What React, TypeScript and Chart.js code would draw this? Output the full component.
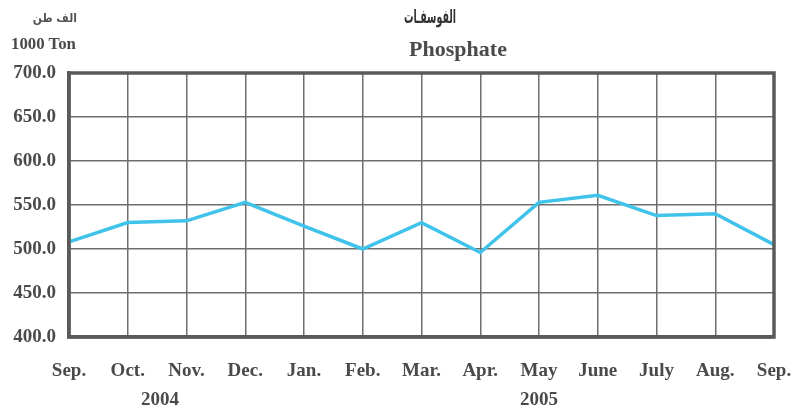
import React, { useEffect, useRef } from "react";
import { Chart, registerables } from "chart.js";
Chart.register(...registerables);

const months = ["Sep.", "Oct.", "Nov.", "Dec.", "Jan.", "Feb.", "Mar.", "Apr.", "May", "June", "July", "Aug.", "Sep."];
const phosphate = [508, 530, 532, 553, 526, 500, 530, 496, 553, 561, 538, 540, 505];
const yearLabels = ["2004", "2005"];
const yearAt = [1.55, 8];
const yMin = 400;
const yMax = 700;
const yStep = 50;

const serif = "'Liberation Serif', 'Times New Roman', serif";
const textGray = "#4a4a4a";

const yearPlugin = {
  id: "years",
  afterDraw(chart: any) {
    const x = chart.scales.x;
    const ctx = chart.ctx;
    ctx.save();
    ctx.font = `bold 19px ${serif}`;
    ctx.fillStyle = textGray;
    ctx.textAlign = "center";
    ctx.textBaseline = "middle";
    yearLabels.forEach((t, i) => {
      ctx.fillText(t, x.getPixelForValue(yearAt[i]), 400);
    });
    ctx.restore();
  },
};

export default function App() {
  const ref = useRef<HTMLCanvasElement>(null);
  useEffect(() => {
    const chart = new Chart(ref.current!, {
      type: "line",
      data: {
        labels: months,
        datasets: [
          {
            data: phosphate,
            borderColor: "#3fc3ea",
            borderWidth: 3.5,
            pointRadius: 0,
            tension: 0,
            fill: false,
          },
        ],
      },
      options: {
        animation: false,
        responsive: false,
        devicePixelRatio: 1,
        layout: { padding: { left: 0, top: 73, right: 25, bottom: 0 } },
        plugins: { legend: { display: false }, tooltip: { enabled: false }, title: { display: false } },
        scales: {
          x: {
            offset: false,
            grid: { color: "#6e6e6e", lineWidth: 1.5, drawTicks: false },
            border: { color: "#5a5a5a", width: 3.5 },
            ticks: {
              font: { family: serif, size: 19, weight: "bold" },
              color: textGray,
              padding: 23,
              maxRotation: 0,
              autoSkip: false,
            },
            afterFit: (s: any) => {
              s.height = 77;
              s.paddingLeft = 0;
              s.paddingRight = 0;
            },
          },
          y: {
            min: yMin,
            max: yMax,
            grid: { color: "#6e6e6e", lineWidth: 1.5, drawTicks: false },
            border: { color: "#5a5a5a", width: 3.5 },
            ticks: {
              stepSize: yStep,
              font: { family: serif, size: 19, weight: "bold" },
              color: textGray,
              padding: 13,
              callback: (v: any) => Number(v).toFixed(1),
            },
            afterFit: (s: any) => {
              s.width = 69;
              s.paddingTop = 0;
              s.paddingBottom = 0;
            },
          },
        },
      },
      plugins: [
        yearPlugin,
        {
          id: "frame",
          afterDatasetsDraw(chart: any) {
            const a = chart.chartArea;
            const ctx = chart.ctx;
            ctx.save();
            ctx.strokeStyle = "#5a5a5a";
            ctx.lineWidth = 3.5;
            ctx.strokeRect(a.left, a.top, a.right - a.left, a.bottom - a.top);
            ctx.restore();
          },
        },
      ],
    });
    return () => chart.destroy();
  }, []);

  return (
    <div style={{ position: "fixed", left: 0, top: 0, width: 799, height: 414, background: "#fff" }}>
      <canvas ref={ref} width={799} height={414} style={{ position: "absolute", left: 0, top: 0 }} />
      <div
        style={{
          position: "absolute",
          left: 330,
          width: 200,
          top: 5,
          textAlign: "center",
          fontFamily: "'DejaVu Sans', sans-serif",
          fontWeight: "bold",
          fontSize: 19,
          color: "#333",
          direction: "rtl",
          transform: "scaleX(0.5)",
        }}
      >
        الفوسفـات
      </div>
      <div
        style={{
          position: "absolute",
          left: 358,
          width: 200,
          top: 38,
          textAlign: "center",
          fontFamily: serif,
          fontWeight: "bold",
          fontSize: 20,
          color: textGray,
          transform: "scaleX(1.1)",
        }}
      >
        Phosphate
      </div>
      <div
        style={{
          position: "absolute",
          left: 17,
          width: 60,
          top: 11,
          textAlign: "right",
          fontFamily: "'DejaVu Sans', sans-serif",
          fontWeight: "bold",
          fontSize: 12,
          color: "#555",
          direction: "rtl",
          transform: "scaleX(0.9)",
          transformOrigin: "right top",
        }}
      >
        الف طن
      </div>
      <div
        style={{
          position: "absolute",
          left: 11,
          top: 35,
          fontFamily: serif,
          fontWeight: "bold",
          fontSize: 16,
          color: textGray,
          whiteSpace: "nowrap",
          transform: "scaleX(1.05)",
          transformOrigin: "left top",
        }}
      >
        1000 Ton
      </div>
    </div>
  );
}
